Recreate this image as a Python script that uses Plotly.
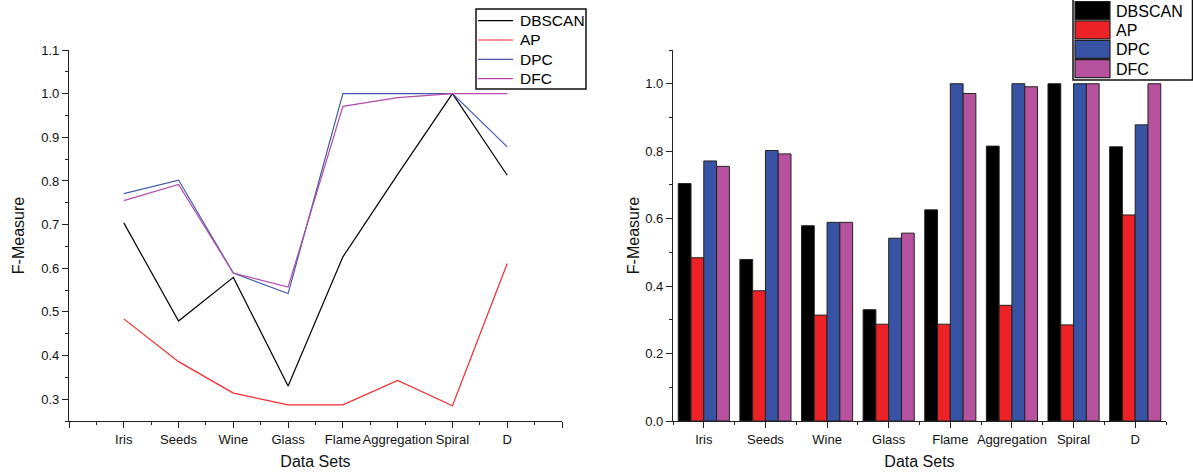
import plotly.graph_objects as go

# ---------------- data ----------------
categories = ["Iris", "Seeds", "Wine", "Glass", "Flame", "Aggregation", "Spiral", "D"]
methods = ["DBSCAN", "AP", "DPC", "DFC"]
dbscan = [0.704, 0.479, 0.579, 0.330, 0.626, 0.815, 1.000, 0.813]
ap = [0.484, 0.386, 0.314, 0.287, 0.287, 0.343, 0.285, 0.611]
dpc = [0.771, 0.802, 0.589, 0.542, 1.000, 1.000, 1.000, 0.878]
dfc = [0.755, 0.792, 0.589, 0.557, 0.971, 0.991, 1.000, 1.000]
left_ytick_vals = [0.3, 0.4, 0.5, 0.6, 0.7, 0.8, 0.9, 1.0, 1.1]
right_ytick_vals = [0.0, 0.2, 0.4, 0.6, 0.8, 1.0]

series = [dbscan, ap, dpc, dfc]
line_colors = ["#000000", "#F22A2E", "#4159AA", "#B44AAA"]
bar_colors = ["#000000", "#EC2227", "#3953A4", "#B7529F"]

FONT = "Arial, Liberation Sans, sans-serif"
W, H = 1193, 474
L, R, T, B = 69, 27, 50, 53
pw, ph = W - L - R, H - T - B


def px2x(px):
    return (px - L) / pw


def px2y(py):
    return (H - B - py) / ph


pos = list(range(len(categories)))

fig = go.Figure()

# left: line chart
for name, vals, col in zip(methods, series, line_colors):
    fig.add_trace(go.Scatter(x=pos, y=vals, mode="lines", name=name,
                             line=dict(color=col, width=1.2),
                             xaxis="x", yaxis="y", showlegend=False))

# right: grouped bars
for name, vals, col in zip(methods, series, bar_colors):
    fig.add_trace(go.Bar(x=pos, y=vals, name=name, marker=dict(color=col, line=dict(color="#222222", width=1)),
                         xaxis="x2", yaxis="y2", showlegend=False))

axis_common = dict(showline=True, linecolor="#222222", linewidth=1.3, showgrid=False, zeroline=False,
                   ticks="outside", ticklen=6, tickwidth=1.2, tickcolor="#222222", automargin=False,
                   tickangle=0, tickfont=dict(family=FONT, size=13, color="#111111"))

left_tickvals = [-1] + pos + [len(categories)]
left_ticktext = [""] + categories + [""]

fig.update_layout(
    width=W, height=H,
    margin=dict(l=L, r=R, t=T, b=B),
    paper_bgcolor="white", plot_bgcolor="white",
    barmode="group", bargap=0.17, bargroupgap=0,
    font=dict(family=FONT, color="#111111"),
    showlegend=False,
    xaxis=dict(domain=[0, px2x(562)], range=[-1, len(categories)], tickmode="array",
               tickvals=left_tickvals, ticktext=left_ticktext,
               minor=dict(tick0=-0.5, dtick=1, ticks="outside", ticklen=3, tickcolor="#222222", tickwidth=1.2),
               title=dict(text="Data Sets", font=dict(family=FONT, size=16, color="#111111"), standoff=10),
               anchor="y", **axis_common),
    yaxis=dict(domain=[0, 1], range=[0.25, 1.1], tickmode="array", tickvals=left_ytick_vals,
               tickformat=".1f",
               minor=dict(tick0=0.25, dtick=0.1, ticks="outside", ticklen=3, tickcolor="#222222", tickwidth=1.2),
               title=dict(text="F-Measure", font=dict(family=FONT, size=16, color="#111111"), standoff=12),
               anchor="x", **axis_common),
    xaxis2=dict(domain=[px2x(673), 1], range=[-0.5, len(categories) - 0.5], tickmode="array",
                tickvals=pos, ticktext=categories,
                minor=dict(tick0=-0.5, dtick=1, ticks="outside", ticklen=3, tickcolor="#222222", tickwidth=1.2),
                title=dict(text="Data Sets", font=dict(family=FONT, size=16, color="#111111"), standoff=10),
                anchor="y2", **axis_common),
    yaxis2=dict(domain=[0, 1], range=[0, 1.1], tickmode="array", tickvals=right_ytick_vals,
                tickformat=".1f",
                minor=dict(tick0=0.1, dtick=0.2, ticks="outside", ticklen=3, tickcolor="#222222", tickwidth=1.2),
                title=dict(text="F-Measure", font=dict(family=FONT, size=16, color="#111111"), standoff=1),
                anchor="x2", **axis_common),
)

shapes = []
annotations = []

# left legend (line samples)
shapes.append(dict(type="rect", xref="paper", yref="paper",
                   x0=px2x(476), x1=px2x(586), y0=px2y(89), y1=px2y(9),
                   line=dict(color="#111111", width=1.5), fillcolor="white", layer="above"))
for i, (name, col) in enumerate(zip(methods, line_colors)):
    yc = 20.7 + i * 19.3
    shapes.append(dict(type="line", xref="paper", yref="paper",
                       x0=px2x(478), x1=px2x(513), y0=px2y(yc), y1=px2y(yc),
                       line=dict(color=col, width=1.2), layer="above"))
    annotations.append(dict(xref="paper", yref="paper", x=px2x(518), y=px2y(yc),
                            xanchor="left", yanchor="middle", text=name, showarrow=False,
                            font=dict(family=FONT, size=15.5, color="#000000")))

# right legend (large swatches)
shapes.append(dict(type="rect", xref="paper", yref="paper",
                   x0=px2x(1073), x1=px2x(1192.5), y0=px2y(80), y1=px2y(-2),
                   line=dict(color="#111111", width=1.5), fillcolor="white", layer="above"))
for i, (name, col) in enumerate(zip(methods, bar_colors)):
    top = 1.5 + i * 19.4
    shapes.append(dict(type="rect", xref="paper", yref="paper",
                       x0=px2x(1075), x1=px2x(1110), y0=px2y(top + 18), y1=px2y(top),
                       line=dict(color="#222222", width=1.2), fillcolor=col, layer="above"))
    annotations.append(dict(xref="paper", yref="paper", x=px2x(1114), y=px2y(top + 9.5),
                            xanchor="left", yanchor="middle", text=name, showarrow=False,
                            font=dict(family=FONT, size=16, color="#000000")))
fig.update_layout(shapes=shapes, annotations=annotations)

fig.write_html("out.html", config={"displayModeBar": False},
               post_script="document.body.style.margin='0';")
